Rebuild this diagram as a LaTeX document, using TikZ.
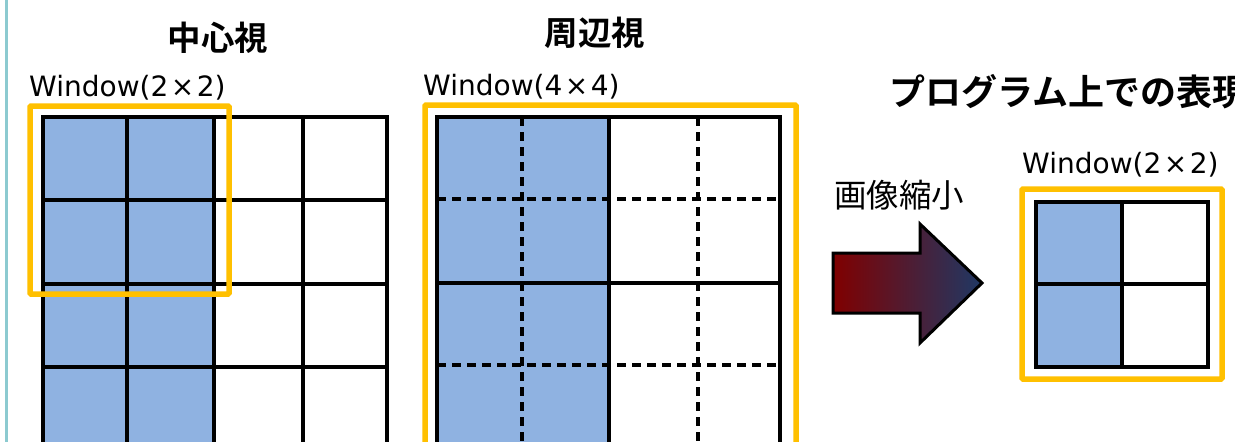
\documentclass[tikz,border=0pt]{standalone}
\usepackage{fontspec}
\setmainfont{Noto Sans CJK JP}
\newfontfamily\jpb{Noto Sans CJK JP Bold}
\newfontfamily\latinsans{DejaVu Sans}
\newcommand{\tm}{\kern2.5pt×\kern2.5pt}
\definecolor{cellblue}{RGB}{143,178,225}
\definecolor{winyellow}{RGB}{255,192,0}
\definecolor{sideline}{RGB}{140,202,208}
\definecolor{arrred}{RGB}{128,0,0}
\definecolor{arrblue}{RGB}{31,56,100}
\tikzset{
  gridline/.style={black, line width=3.2pt},
  borderline/.style={black, line width=3.3pt},
  dashline/.style={black, line width=3.2pt, dash pattern=on 9pt off 6pt},
  winbox/.style={draw=winyellow, line width=5.5pt, rounded corners=1pt},
  title/.style={font=\jpb\fontsize{33.5}{33.5}\selectfont, inner sep=0pt},
  wlabel/.style={font=\latinsans\fontsize{28}{28}\selectfont, inner sep=0pt, anchor=base west},
  plain/.style={font=\fontsize{32.5}{32.5}\selectfont, inner sep=0pt},
}
\begin{document}
\begin{tikzpicture}[x=1pt,y=-1pt]
\useasboundingbox (0,0) rectangle (1235,442);
\clip (0,0) rectangle (1235,442);
\fill[white] (0,0) rectangle (1235,442);
% side line
\draw[sideline, line width=3pt] (6,-5) -- (6,450);

% ---------- left grid (central vision) ----------
\fill[cellblue] (43,117) rectangle (214,460);
\foreach \x in {127,214,303} \draw[gridline] (\x,117) -- (\x,460);
\foreach \y in {200,284,367,450} \draw[gridline] (43,\y) -- (387,\y);
\draw[borderline] (43,460) -- (43,117) -- (387,117) -- (387,460);
\draw[winbox] (30,106) rectangle (229,294);
\node[title] (tcenter) at (218,38) {中心視};
\node[wlabel] (wl) at (29,96) {Window(2\tm2)};

% ---------- middle grid (peripheral vision) ----------
\fill[cellblue] (437,117) rectangle (609,460);
\foreach \x in {522,698} \draw[dashline] (\x,117) -- (\x,460);
\foreach \y in {199,365} \draw[dashline] (437,\y) -- (780,\y);
\draw[gridline] (609,117) -- (609,460);
\draw[gridline] (437,283) -- (780,283);
\draw[borderline] (437,460) -- (437,117) -- (780,117) -- (780,460);
\draw[winbox] (425,105) rectangle (796,470);
\node[title] (tperi) at (595,33) {周辺視};
\node[wlabel] (wm) at (423,95) {Window(4\tm4)};

% ---------- right: program representation ----------
\node[title, anchor=west, font=\jpb\fontsize{36}{36}\selectfont] (tprog) at (889,92) {プログラム上での表現};
\node[plain, anchor=west] (shrink) at (834,195) {画像縮小};
\path[draw=black, line width=3pt, left color=arrred, right color=arrblue, line join=miter]
  (833,253) -- (920,253) -- (920,224) -- (982,283) -- (920,343) -- (920,313) -- (833,313) -- cycle;
\coordinate (arrowtip) at (982,283);

\fill[cellblue] (1036,202) rectangle (1122,367);
\draw[gridline] (1122,202) -- (1122,367);
\draw[gridline] (1036,284) -- (1208,284);
\draw[borderline] (1036,202) rectangle (1208,367);
\draw[winbox] (1022,189) rectangle (1222,379);
\node[wlabel] (wr) at (1022,173) {Window(2\tm2)};
\end{tikzpicture}
\end{document}
